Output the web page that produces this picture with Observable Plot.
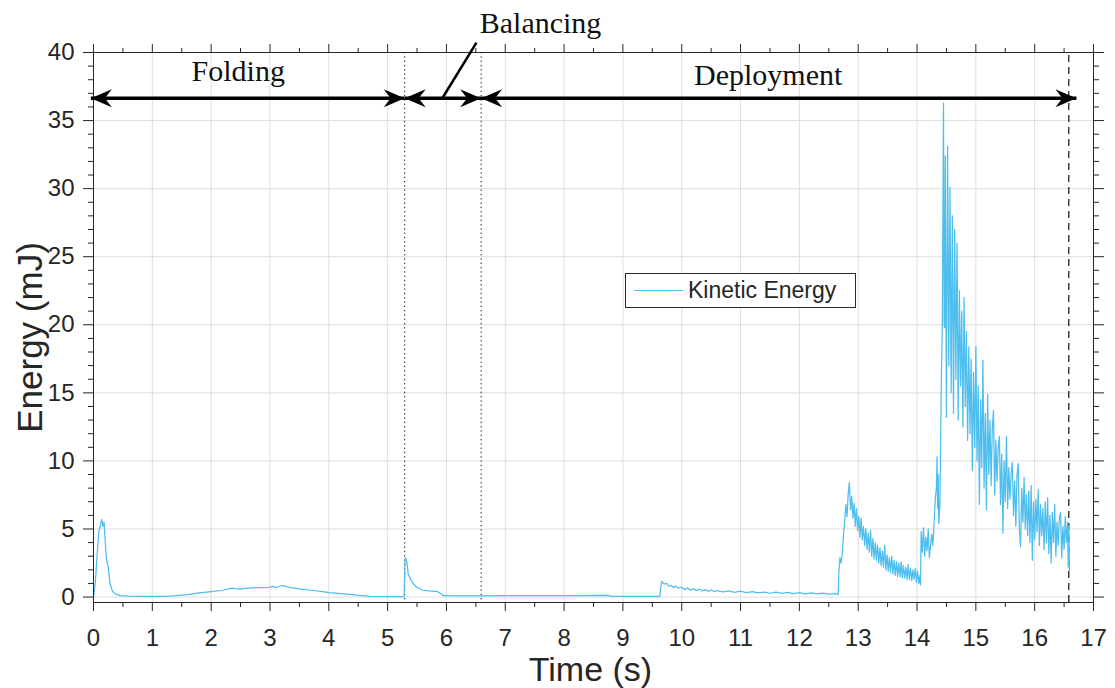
<!DOCTYPE html>
<html>
<head>
<meta charset="utf-8">
<script src="https://cdn.jsdelivr.net/npm/d3@7"></script>
<script src="https://cdn.jsdelivr.net/npm/@observablehq/plot@0.6"></script>
<style>
  html, body { margin: 0; padding: 0; background: #fff; }
  #wrap { position: relative; width: 1115px; height: 688px; }
  #legend { position: absolute; left: 625px; top: 273px; width: 231px; height: 35px;
    border: 1px solid #2b2b2b; background: #fff; box-sizing: border-box;
    font-family: "Liberation Sans", Arial, sans-serif; font-size: 23px; color: #262626; }
  #legend .sw { position: absolute; left: 8px; top: 16px; width: 49px; height: 0; border-top: 1.2px solid #4dbeee; }
  #legend .tx { position: absolute; left: 62px; top: 2px; line-height: 28px; }
</style>
</head>
<body>
<div id="wrap"><div id="chart"></div>
<div id="legend"><div class="sw"></div><div class="tx">Kinetic Energy</div></div>
</div>
<script>
// ---- Data ----
const foldT = [0,0.03,0.06,0.09,0.12,0.14,0.16,0.18,0.2,0.22,0.25,0.28,0.32,0.38,0.45,0.6,0.8,1.0,1.2,1.4,1.6,1.8,2.0,2.2,2.35,2.4,2.5,2.6,2.8,3.0,3.05,3.1,3.2,3.25,3.35,3.5,3.7,3.9,4.0,4.2,4.4,4.5,4.7,5.0,5.2,5.28];
const foldE = [0,1.0,3.0,4.8,5.3,5.7,5.2,5.5,4.0,2.8,2.2,1.0,0.45,0.2,0.1,0.07,0.05,0.05,0.05,0.1,0.18,0.3,0.4,0.5,0.65,0.62,0.58,0.65,0.7,0.72,0.78,0.7,0.85,0.8,0.7,0.6,0.5,0.4,0.32,0.25,0.18,0.12,0.05,0.03,0.03,0.03];

const balT = [5.3,5.31,5.33,5.35,5.37,5.4,5.45,5.5,5.6,5.7,5.85,5.95,6.1,6.6,7.0,8.0,8.75,8.8,9.0,9.5,9.63];
const balE = [2.9,2.8,2.5,1.7,1.5,1.2,0.9,0.7,0.5,0.45,0.4,0.1,0.08,0.08,0.1,0.1,0.12,0.05,0.05,0.05,0.05];

const depT1 = [9.64,9.66,9.7,9.74,9.78,9.82,9.86,9.9,9.95,10.0,10.05,10.1,10.15,10.2,10.25,10.3,10.35,10.4,10.45,10.5,10.55,10.6,10.7,10.8,10.9,11.0,11.1,11.2,11.3,11.4,11.5,11.6,11.7,11.8,11.9,12.0,12.1,12.2,12.3,12.4,12.5,12.6,12.66];
const depE1 = [0.6,1.15,0.95,1.0,0.8,0.85,0.7,0.8,0.65,0.72,0.55,0.68,0.5,0.62,0.48,0.58,0.45,0.55,0.42,0.52,0.4,0.48,0.38,0.46,0.35,0.43,0.32,0.4,0.3,0.37,0.28,0.36,0.27,0.34,0.26,0.33,0.24,0.31,0.23,0.28,0.22,0.25,0.2];

const depT2 = [12.67,12.69,12.71,12.73,12.75,12.77,12.79,12.81,12.83,12.85,12.87,12.89,12.91,12.93,12.95,12.97,12.99,13.01,13.03,13.05,13.07,13.09,13.11,13.13,13.15,13.17,13.19,13.21,13.23,13.25,13.27,13.29,13.31,13.33,13.35,13.37,13.39,13.41,13.43,13.45,13.47,13.49,13.51,13.53,13.55,13.57,13.59,13.61,13.63,13.65,13.67,13.69,13.71,13.73,13.75,13.77,13.79,13.81,13.83,13.85,13.87,13.89,13.91,13.93,13.95,13.97,13.99,14.01,14.03,14.05,14.06];
const depE2 = [1.8,2.9,2.5,3.2,4.6,5.6,6.8,5.9,7.6,8.4,6.4,7.4,5.8,6.9,5.2,6.5,4.9,5.9,4.4,5.8,4.2,5.2,3.8,5.0,3.5,4.7,3.3,4.9,3.0,4.3,2.8,4.0,2.7,3.8,2.5,3.6,2.3,3.4,2.2,3.8,2.0,3.1,1.9,2.9,1.8,3.0,1.7,2.7,1.6,2.6,1.5,2.5,1.5,2.6,1.4,2.3,1.4,2.2,1.3,2.4,1.3,2.1,1.2,2.0,1.3,2.1,1.1,1.9,1.0,1.6,0.9];

const depT3 = [14.07,14.09,14.11,14.13,14.15,14.17,14.19,14.21,14.23,14.25,14.27,14.29,14.31,14.33,14.34,14.35,14.36,14.37,14.39,14.41,14.43,14.45,14.46,14.47];
const depE3 = [4.8,3.3,5.1,3.0,4.4,3.4,5.0,2.9,3.8,4.6,3.8,5.5,7.2,8.0,10.3,6.5,9.0,5.4,7.0,15.0,20.0,36.3,20.0,19.8];

const depT4 = [14.48,14.50,14.52,14.54,14.56,14.58,14.60,14.62,14.64,14.66,14.68,14.70,14.72,14.74,14.76,14.78,14.80,14.82,14.84,14.86,14.88,14.90,14.92,14.94,14.96,14.98,15.00,15.02,15.04,15.06,15.08,15.10,15.12,15.14,15.16,15.18,15.20,15.22,15.24,15.26,15.28,15.30,15.32,15.34,15.36,15.38,15.40,15.42,15.44,15.46,15.48,15.50,15.52,15.54,15.56,15.58,15.60,15.62,15.64,15.66,15.68,15.70,15.72,15.74,15.76,15.78,15.80,15.82,15.84,15.86,15.88,15.90,15.92,15.94,15.96,15.98,16.00,16.02,16.04,16.06,16.08,16.10,16.12,16.14,16.16,16.18,16.20,16.22,16.24,16.26,16.28,16.30,16.32,16.34,16.36,16.38,16.40,16.42,16.44,16.46,16.48,16.50,16.52,16.54,16.56,16.57,16.58,16.59];
const depE4 = [32.4,13.2,33.1,17.0,30.1,15.0,28.0,13.5,27.0,16.0,26.0,13.0,22.5,15.5,21.0,12.5,22.0,14.0,19.5,11.5,18.4,12.0,17.5,9.3,16.5,11.0,18.4,10.0,15.5,6.8,14.5,9.5,17.4,8.0,13.5,6.4,14.9,9.0,13.0,8.2,12.5,13.7,7.5,11.5,8.5,11.0,11.8,6.8,10.5,4.7,10.0,7.0,11.8,6.5,9.5,7.2,9.0,9.9,6.0,8.5,5.2,9.0,9.8,5.0,3.7,8.0,5.5,8.8,5.0,7.5,4.5,7.8,4.0,8.2,2.7,7.0,4.2,7.2,4.8,7.9,3.8,6.8,4.5,6.5,3.5,7.0,4.0,7.3,3.2,6.0,2.5,6.2,4.0,6.8,3.0,5.5,3.8,5.8,6.2,2.9,5.2,3.5,5.9,4.0,5.5,2.2,5.2,1.9];

const xMajor = [0,1,2,3,4,5,6,7,8,9,10,11,12,13,14,15,16,17];
const xMinor = [0.5,1.5,2.5,3.5,4.5,5.5,6.5,7.5,8.5,9.5,10.5,11.5,12.5,13.5,14.5,15.5,16.5];
const yMajor = [0,5,10,15,20,25,30,35,40];
const yMinor = [1,2,3,4,6,7,8,9,11,12,13,14,16,17,18,19,21,22,23,24,26,27,28,29,31,32,33,34,36,37,38,39];

// phase annotations
const phaseNames = ["Folding", "Balancing", "Deployment"];
const phaseLabelX = [2.46, 7.6, 11.47];
const phaseLabelY = [37.87, 41.4, 37.58];
const arrowFrom = [-0.045, 5.29, 6.59];
const arrowTo = [5.29, 6.59, 16.71];
const arrowLevel = 36.64;
const phaseBounds = [5.29, 6.59];
const endTime = 16.58;
const leader = {x1: 5.93, y1: 36.64, x2: 6.51, y2: 40.73};

// ---- Build ----
const T = [...foldT, ...balT, ...depT1, ...depT2, ...depT3, ...depT4];
const E = [...foldE, ...balE, ...depE1, ...depE2, ...depE3, ...depE4];
const series = T.map((t, i) => ({t, e: E[i]}));
const arrows = arrowFrom.map((a, i) => ({a, b: arrowTo[i], y: arrowLevel}));
const labels = phaseNames.map((n, i) => ({n, x: phaseLabelX[i], y: phaseLabelY[i]}));

const head = {draw(ctx) { ctx.moveTo(0, 0); ctx.lineTo(-21, -9); ctx.lineTo(-14, 0); ctx.lineTo(-21, 9); ctx.closePath(); }};
const ink = "#262626";
const font = "'Liberation Sans', Arial, sans-serif";
const serif = "'Liberation Serif', 'Times New Roman', serif";

const chart = Plot.plot({
  width: 1115, height: 688,
  marginLeft: 93, marginRight: 22, marginTop: 52, marginBottom: 86,
  style: {fontFamily: font, background: "#fff", color: ink},
  x: {domain: [0, 17], label: null},
  y: {domain: [-0.4, 40], label: null},
  marks: [
    Plot.gridX(xMajor, {stroke: "#dedede", strokeOpacity: 1}),
    Plot.gridY(yMajor, {stroke: "#dedede", strokeOpacity: 1}),
    Plot.ruleX(phaseBounds, {stroke: "#111", strokeDasharray: "1.3,3", strokeWidth: 1}),
    Plot.ruleX([endTime], {y1: -0.4, y2: 39.8, stroke: "#111", strokeDasharray: "7,5", strokeWidth: 1.2}),
    Plot.line(series, {x: "t", y: "e", stroke: "#4dbeee", strokeWidth: 1.25}),
    Plot.frame({stroke: ink, strokeWidth: 1}),
    Plot.axisX({ticks: xMajor, tickSize: 9, tickPadding: 17, fontSize: 24, color: ink, label: null}),
    Plot.axisX({ticks: xMinor, tickSize: 5, tickFormat: () => "", color: ink, label: null}),
    Plot.axisX({anchor: "top", ticks: xMajor, tickSize: 9, tickFormat: () => "", color: ink, label: null}),
    Plot.axisX({anchor: "top", ticks: xMinor, tickSize: 5, tickFormat: () => "", color: ink, label: null}),
    Plot.axisY({ticks: yMajor, tickSize: 10, tickPadding: 9, fontSize: 24, color: ink, label: null}),
    Plot.axisY({ticks: yMinor, tickSize: 5, tickFormat: () => "", color: ink, label: null}),
    Plot.axisY({anchor: "right", ticks: yMajor, tickSize: 10, tickFormat: () => "", color: ink, label: null}),
    Plot.axisY({anchor: "right", ticks: yMinor, tickSize: 5, tickFormat: () => "", color: ink, label: null}),
    Plot.link(arrows, {x1: "a", x2: "b", y1: "y", y2: "y", stroke: "#000", strokeWidth: 3.5}),
    Plot.dot(arrows, {x: "b", y: "y", symbol: head, fill: "#000", stroke: null, r: 5}),
    Plot.dot(arrows, {x: "a", y: "y", symbol: head, fill: "#000", stroke: null, r: 5, rotate: 180}),
    Plot.link([leader], {x1: "x1", y1: "y1", x2: "x2", y2: "y2", stroke: "#000", strokeWidth: 2.5}),
    Plot.text(labels, {x: "x", y: "y", text: "n", fontFamily: serif, fontSize: 30, fill: "#111", lineAnchor: "bottom"}),
    Plot.text(["Energy (mJ)"], {frameAnchor: "left", textAnchor: "middle", lineAnchor: "middle", rotate: -90, dx: -63, dy: 10, fontSize: 35, fill: ink}),
    Plot.text(["Time (s)"], {frameAnchor: "bottom", lineAnchor: "bottom", dy: 78, dx: -3, fontSize: 34, fill: ink})
  ]
});
document.getElementById("chart").appendChild(chart);
</script>
</body>
</html>
